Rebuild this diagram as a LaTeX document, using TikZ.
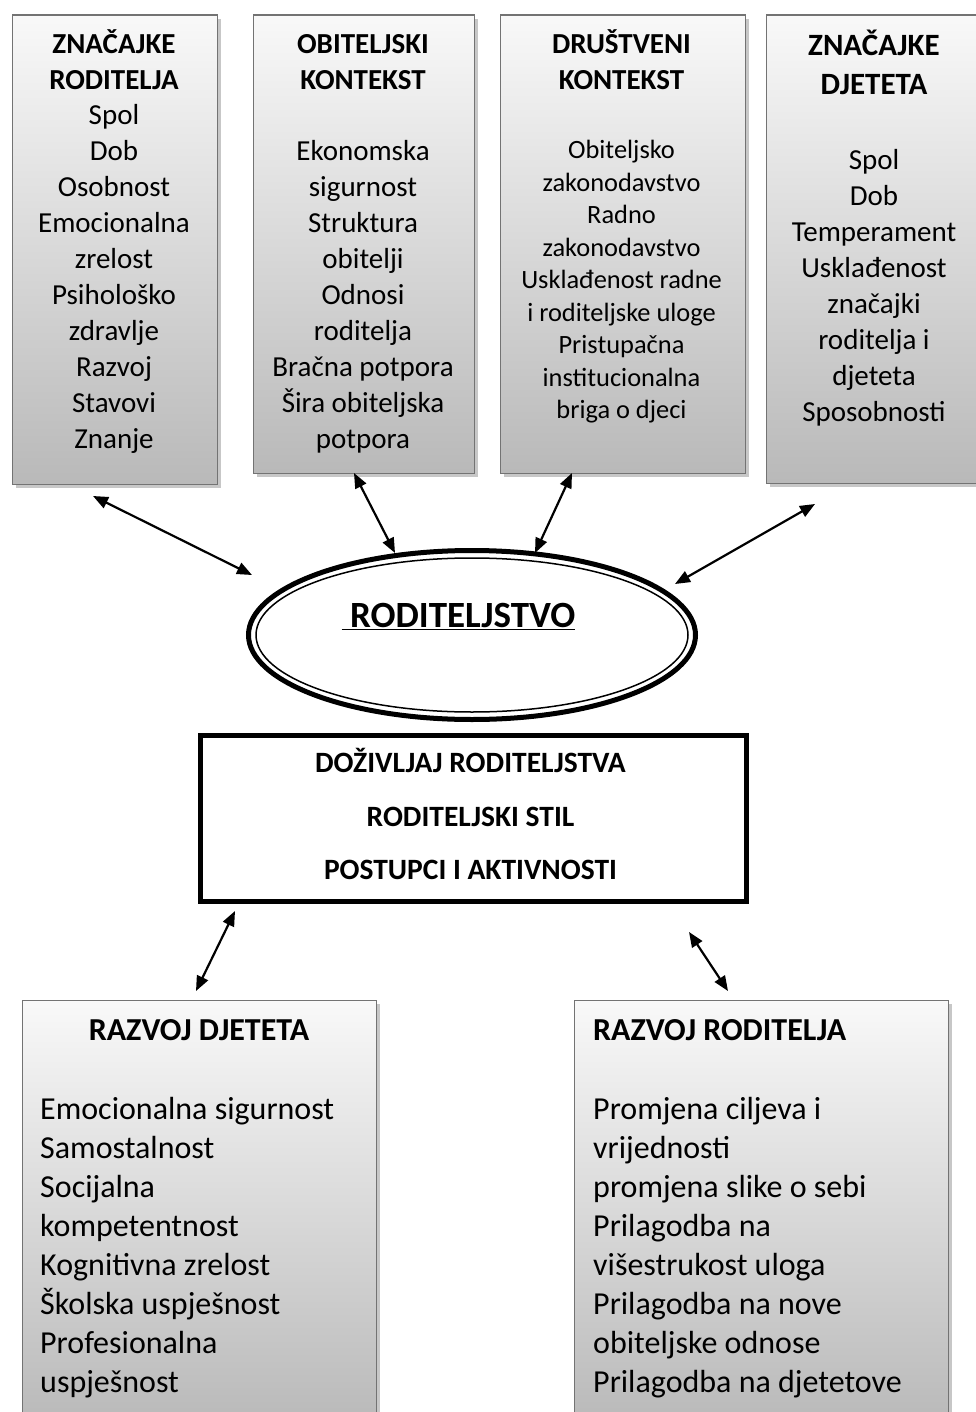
\documentclass[tikz,border=0pt]{standalone}
\usepackage{fontspec}
\setmainfont{Carlito}
\usetikzlibrary{arrows.meta}
\usetikzlibrary{shapes.geometric}
\usetikzlibrary{shadows}

\pgfdeclareverticalshading{boxfade}{100bp}{color(0bp)=(black!40); color(80bp)=(white); color(100bp)=(black!6)}

\tikzset{
  infobox/.style={draw=black!55, line width=1.5pt, shading=boxfade, anchor=north west, inner sep=0pt,
    drop shadow={shadow xshift=4pt, shadow yshift=-4pt, fill=black!22, opacity=1}},
  boxtitle/.style={anchor=north, align=center, inner sep=0pt, font=\bfseries\fontsize{29}{36}\selectfont,
    execute at begin node={\rule{0pt}{1.2em}}},
  boxlist/.style={anchor=north, align=center, inner sep=0pt, font=\fontsize{29}{36}\selectfont,
    execute at begin node={\rule{0pt}{1.2em}}},
  link/.style={line width=2.2pt, {Triangle[length=15pt,width=12pt]}-{Triangle[length=15pt,width=12pt]}}
}

\begin{document}
\begin{tikzpicture}[x=1pt, y=-1pt]
  \useasboundingbox (0, 0) rectangle (975, 1412);

  % Parent characteristics
  \node[infobox, minimum width=205pt, minimum height=469pt] (zr) at (11.5, 14.5) {};
  \node[boxtitle] (zrtitle) at (114, 29.2) {ZNAČAJKE\\RODITELJA};
  \node[boxlist] (zrlist) at (114, 103.7) {Spol\\Dob\\Osobnost\\Emocionalna\\zrelost\\Psihološko\\zdravlje\\Razvoj\\Stavovi\\Znanje};

  % Family context
  \node[infobox, minimum width=221pt, minimum height=458pt] (ok) at (252.5, 14.5) {};
  \node[boxtitle] (oktitle) at (363, 34.2) {OBITELJSKI\\KONTEKST};
  \node[boxlist] (oklist) at (363, 140.2) {Ekonomska\\sigurnost\\Struktura\\obitelji\\Odnosi\\roditelja\\Bračna potpora\\Šira obiteljska\\potpora};

  % Social context
  \node[infobox, minimum width=245pt, minimum height=458pt] (dk) at (499.5, 14.5) {};
  \node[boxtitle] (dktitle) at (621.5, 29.2) {DRUŠTVENI\\KONTEKST};
  \node[boxlist, font=\fontsize{26.4}{32.5}\selectfont] (dklist) at (621.5, 140.3) {Obiteljsko\\zakonodavstvo\\Radno\\zakonodavstvo\\Usklađenost radne\\i roditeljske uloge\\Pristupačna\\institucionalna\\briga o djeci};

  % Child characteristics
  \node[infobox, minimum width=218pt, minimum height=468pt] (zd) at (765.5, 14.5) {};
  \node[boxtitle, font=\bfseries\fontsize{31}{39}\selectfont] (zdtitle) at (874, 29.8) {ZNAČAJKE\\DJETETA};
  \node[boxlist] (zdlist) at (874, 149.2) {Spol\\Dob\\Temperament\\Usklađenost\\značajki\\roditelja i\\djeteta\\Sposobnosti};

  % Parenting
  \node[ellipse, draw, line width=5pt, minimum width=447pt, minimum height=169pt, inner sep=0pt] (par) at (472, 635) {};
  \node[ellipse, draw, line width=1.5pt, minimum width=432pt, minimum height=154pt, inner sep=0pt] (parin) at (472, 635) {};
  \node[boxtitle, font=\bfseries\fontsize{37}{44}\selectfont] (partext) at (458.5, 582.6) {\underline{\ RODITELJSTVO}};

  % Experience, style, activities
  \node[draw, line width=5pt, minimum width=546pt, minimum height=166pt, anchor=north west, inner sep=0pt] (exp) at (197.5, 732.5) {};
  \node[boxtitle, font=\bfseries\fontsize{29.5}{53.5}\selectfont] (exptext) at (470.5, 748.2) {DOŽIVLJAJ RODITELJSTVA\\RODITELJSKI STIL\\POSTUPCI I AKTIVNOSTI};

  % Child development
  \node[infobox, minimum width=354pt, minimum height=425pt] (rd) at (21.5, 999.5) {};
  \node[boxtitle, font=\bfseries\fontsize{32}{39}\selectfont] (rdtitle) at (199, 1001.6) {RAZVOJ DJETETA};
  \node[boxlist, anchor=north west, align=left, font=\fontsize{32}{39}\selectfont] (rdlist) at (40, 1096.6) {Emocionalna sigurnost\\Samostalnost\\Socijalna\\kompetentnost\\Kognitivna zrelost\\Školska uspješnost\\Profesionalna\\uspješnost};

  % Parent development
  \node[infobox, minimum width=374pt, minimum height=425pt] (rr) at (573.5, 999.5) {};
  \node[boxtitle, anchor=north west, font=\bfseries\fontsize{32}{39}\selectfont] (rrtitle) at (593, 1001.6) {RAZVOJ RODITELJA};
  \node[boxlist, anchor=north west, align=left, font=\fontsize{32}{39}\selectfont] (rrlist) at (593, 1096.6) {Promjena ciljeva i\\vrijednosti\\promjena slike o sebi\\Prilagodba na\\višestrukost uloga\\Prilagodba na nove\\obiteljske odnose\\Prilagodba na djetetove};

  % Arrow ends
  \coordinate (zrA) at (93, 496);
  \coordinate (parzr) at (252, 575);
  \coordinate (okA) at (354, 473);
  \coordinate (parok) at (395, 553);
  \coordinate (dkA) at (572, 473);
  \coordinate (pardk) at (535, 553);
  \coordinate (zdA) at (815, 504);
  \coordinate (parzd) at (675, 584);
  \coordinate (exprd) at (235, 911);
  \coordinate (rdA) at (196, 991);
  \coordinate (exprr) at (689, 932);
  \coordinate (rrA) at (728, 991);

  % Links
  \draw[link] (zrA) -- (parzr); % parent - parenting
  \draw[link] (okA) -- (parok); % family - parenting
  \draw[link] (dkA) -- (pardk); % society - parenting
  \draw[link] (zdA) -- (parzd); % child - parenting
  \draw[link] (exprd) -- (rdA); % into child development
  \draw[link] (exprr) -- (rrA); % into parent development

\end{tikzpicture}
\end{document}
